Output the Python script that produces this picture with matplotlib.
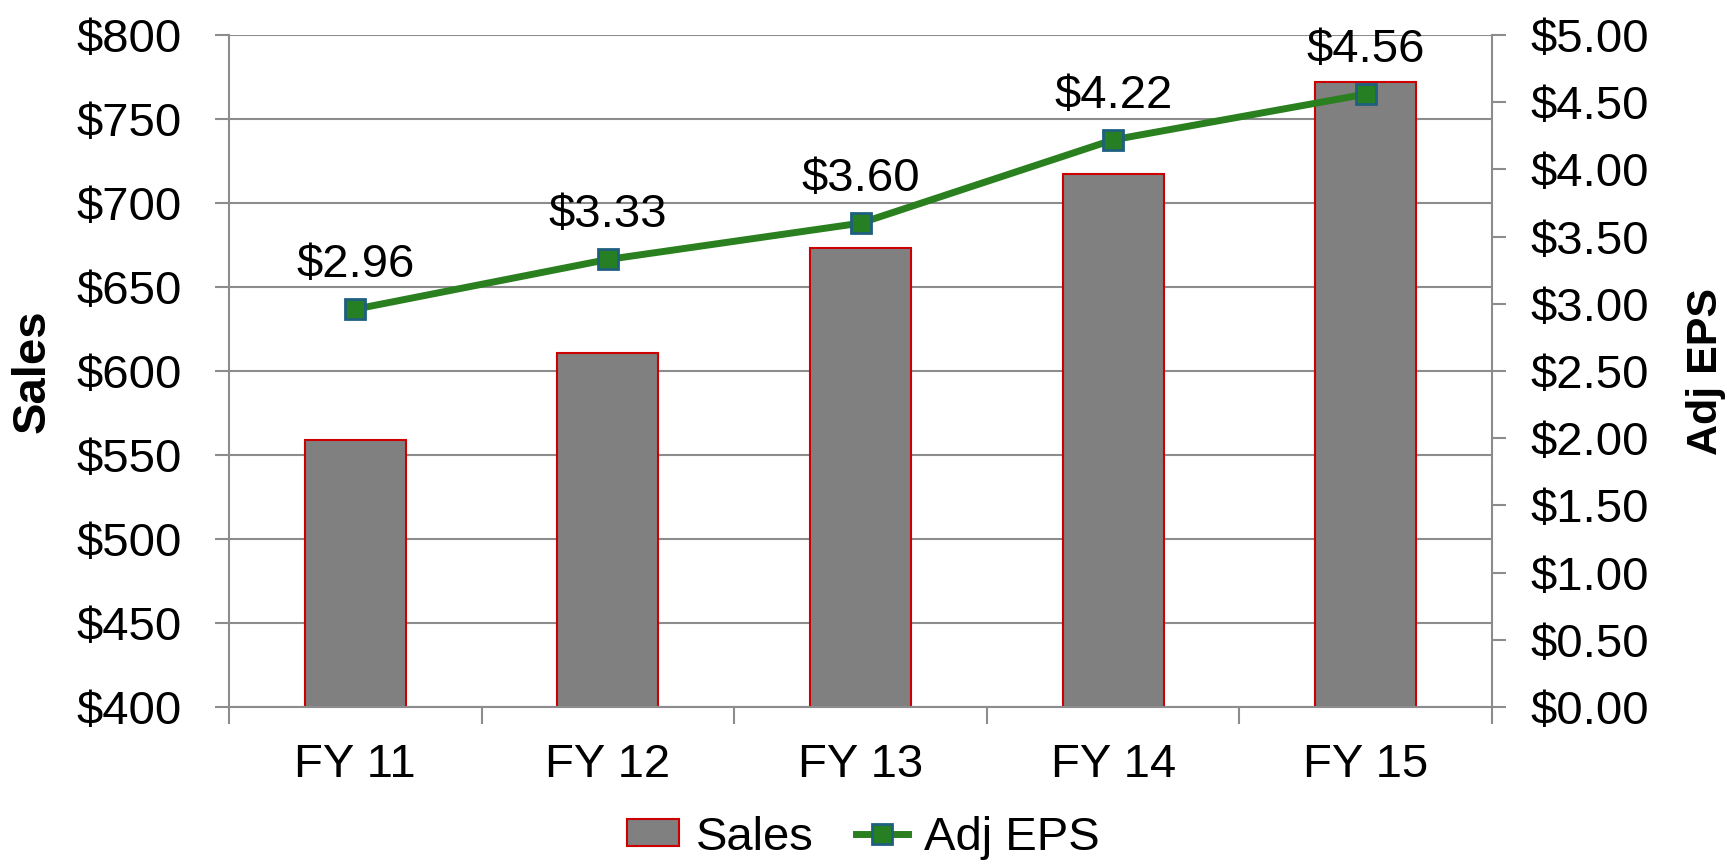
import matplotlib.pyplot as plt
import numpy as np

plt.rcParams['font.family'] = ['Liberation Sans', 'DejaVu Sans']

years = ['FY 11', 'FY 12', 'FY 13', 'FY 14', 'FY 15']
sales = [559, 611, 673, 717, 772]
eps = [2.96, 3.33, 3.60, 4.22, 4.56]
sales_ticks = [400, 450, 500, 550, 600, 650, 700, 750, 800]
eps_ticks = [0, 0.5, 1, 1.5, 2, 2.5, 3, 3.5, 4, 4.5, 5]

fig = plt.figure(figsize=(17.27, 8.64), dpi=100)
ax = fig.add_axes([229 / 1727, 1 - 707 / 864, (1492 - 229) / 1727, (707 - 35) / 864])
x = np.arange(len(years))

ax.bar(x, sales, width=0.4, color='#808080', edgecolor='#cc0000', linewidth=1.5,
       label='Sales', zorder=2)
ax.set_ylim(400, 800)
ax.set_xlim(-0.5, len(years) - 0.5)
ax.set_yticks(sales_ticks)
ax.set_yticklabels(['$%d' % v for v in sales_ticks])
ax.yaxis.grid(True, color='#8c8c8c', linewidth=1.5, zorder=0)
ax.set_axisbelow(True)
ax.set_xticks(x)
ax.set_xticklabels(years)
ax.set_xticks(np.arange(len(years) + 1) - 0.5, minor=True)
ax.tick_params(axis='x', which='major', length=0, pad=26, labelsize=34)
ax.tick_params(axis='x', which='minor', length=12, width=1.5, color='#8c8c8c')
ax.tick_params(axis='y', length=10, width=1.5, color='#8c8c8c', labelsize=34, pad=24)
for s in ['top', 'right']:
    ax.spines[s].set_visible(False)
for s in ['left', 'bottom']:
    ax.spines[s].set_color('#8c8c8c')
    ax.spines[s].set_linewidth(1.5)
ax.set_ylabel('Sales', fontsize=34, fontweight='bold', labelpad=16)

ax2 = ax.twinx()
ax2.plot(x, eps, color='#2a7f1f', linewidth=5, marker='s', markersize=15,
         markerfacecolor='#267f22', markeredgecolor='#1f5f7f', markeredgewidth=2,
         label='Adj EPS', zorder=3)
ax2.set_ylim(0, 5)
ax2.set_yticks(eps_ticks)
ax2.set_yticklabels(['$%.2f' % v for v in eps_ticks])
ax2.tick_params(axis='y', length=10, width=1.5, color='#8c8c8c', labelsize=34, pad=18)
for s in ['top', 'left', 'bottom']:
    ax2.spines[s].set_visible(False)
ax2.spines['right'].set_color('#8c8c8c')
ax2.spines['right'].set_linewidth(1.5)
ax2.set_ylabel('Adj EPS', fontsize=31, fontweight='bold', rotation=90, labelpad=26)
for xi, v in zip(x, eps):
    ax2.annotate('$%.2f' % v, (xi, v), xytext=(0, 16), textcoords='offset points',
                 ha='center', va='bottom', fontsize=34)

h1, l1 = ax.get_legend_handles_labels()
h2, l2 = ax2.get_legend_handles_labels()
fig.legend(h1 + h2, l1 + l2, loc='lower center', ncol=2, frameon=False, fontsize=34,
           bbox_to_anchor=(0.5, -0.044), handlelength=1.1, handleheight=0.5,
           columnspacing=0.9, handletextpad=0.35)

fig.savefig('out.png', dpi=100)
